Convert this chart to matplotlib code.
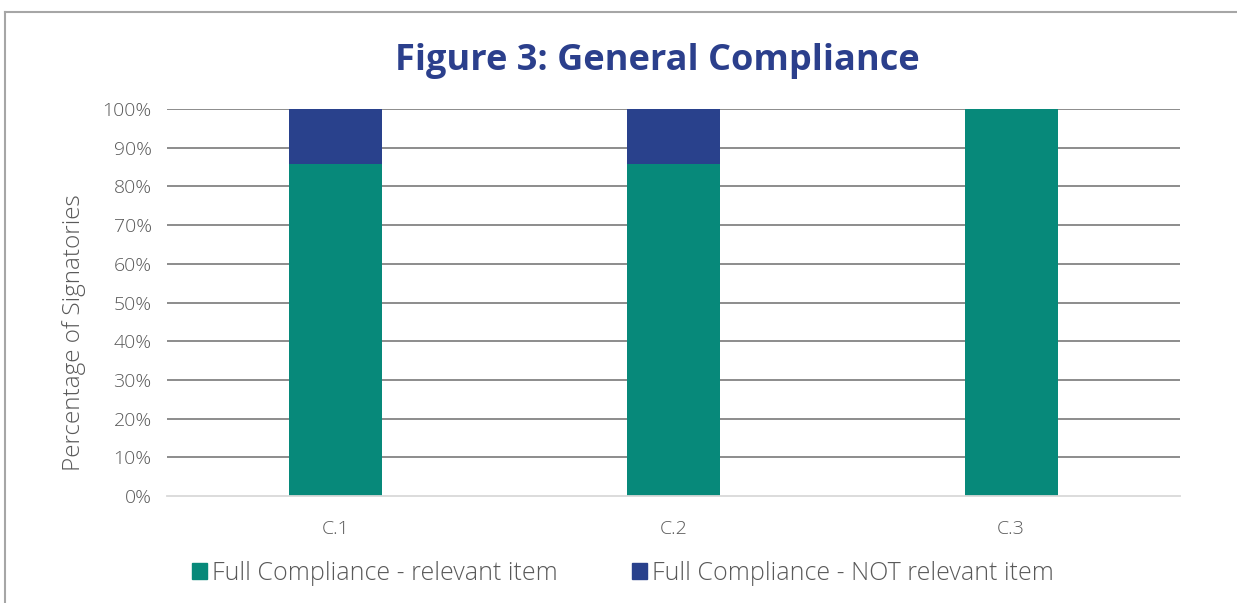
import matplotlib
matplotlib.use("Agg")
import matplotlib.pyplot as plt
from matplotlib.lines import Line2D
from matplotlib.patches import Patch

categories = ["C.1", "C.2", "C.3"]
relevant = [85.7, 85.7, 100.0]
not_relevant = [14.3, 14.3, 0.0]
yticks = [0, 10, 20, 30, 40, 50, 60, 70, 80, 90, 100]

GREEN = "#07897A"
BLUE = "#29418C"
TXT = "#595959"

plt.rcParams['font.family'] = ['Open Sans', 'DejaVu Sans']

fig = plt.figure(figsize=(12.37, 6.03), dpi=100)
ax = fig.add_axes([167/1237, 107/603, (1180-167)/1237, (496-109)/603])

x = list(range(len(categories)))
ax.bar(x, relevant, width=0.275, color=GREEN, zorder=3, label="Full Compliance - relevant item")
ax.bar(x, not_relevant, bottom=relevant, width=0.275, color=BLUE, zorder=3,
       label="Full Compliance - NOT relevant item")

ax.set_xlim(-0.5, 2.5)
ax.set_ylim(0, 100)
ax.set_yticks(yticks)
ax.set_yticklabels([f"{v}%" for v in yticks], fontsize=14, color=TXT, fontweight='light')
ax.set_xticks(x)
ax.set_xticklabels(categories, fontsize=14, color=TXT, fontweight='light')
ax.tick_params(axis='y', length=0, pad=11)
ax.tick_params(axis='x', length=0, pad=17)
for y in yticks[1:]:
    ax.axhline(y, color="#8c8c8c", lw=1.4, zorder=1)
for s in ["top", "right", "left"]:
    ax.spines[s].set_visible(False)
ax.spines["bottom"].set_color("#d9d9d9")
ax.spines["bottom"].set_linewidth(1.3)
ax.spines["bottom"].set_zorder(4)

ax.set_ylabel("Percentage of Signatories", fontsize=17.5, color=TXT, fontweight='light')
ax.yaxis.set_label_coords((86 - 167) / (1180 - 167), (496 - 333) / (496 - 109))

fig.text(657/1237, 1 - 61/603, "Figure 3: General Compliance", ha='center', va='center',
         fontsize=26, fontweight='bold', color="#2B3F8C")

handles = [Patch(color=GREEN), Patch(color=BLUE)]
fig.legend(handles, ["Full Compliance - relevant item", "Full Compliance - NOT relevant item"],
           loc='center', bbox_to_anchor=(623/1237, 1 - 573/603), ncol=2, frameon=False,
           handlelength=0.6, handleheight=0.6, handletextpad=0.2,
           columnspacing=3.0, labelcolor=TXT, prop={'weight': 'light', 'size': 18})

# outer frame
fig.add_artist(Line2D([5/1237, 5/1237], [0, 1 - 12/603], color="#a6a6a6", lw=1.5))
fig.add_artist(Line2D([5/1237, 1], [1 - 12/603, 1 - 12/603], color="#a6a6a6", lw=1.5))

fig.savefig("out.png", dpi=100)
